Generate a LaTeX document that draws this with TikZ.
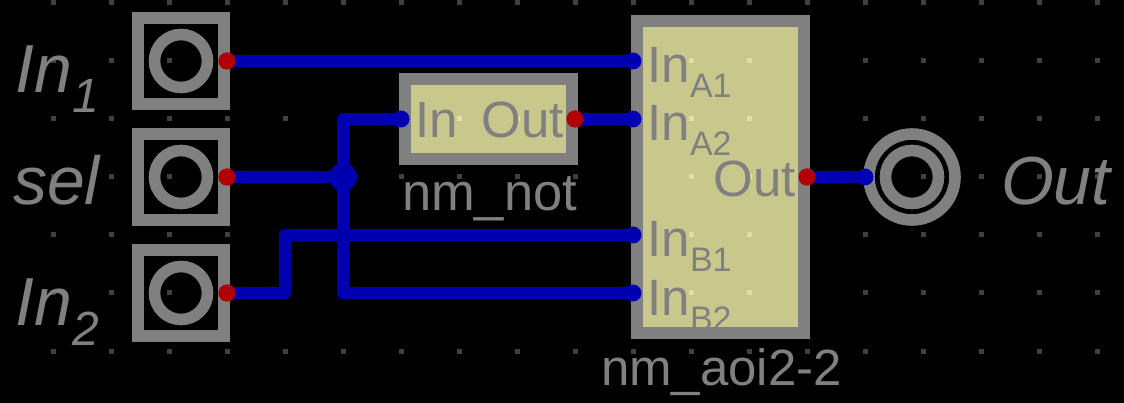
\documentclass[tikz,border=0pt]{standalone}
\usepackage{fontspec}
\setmainfont{Liberation Sans}
\definecolor{wireblue}{RGB}{0,0,178}
\definecolor{pinred}{RGB}{178,0,0}
\definecolor{edgegray}{RGB}{128,128,128}
\definecolor{blockfill}{RGB}{200,200,140}
\definecolor{griddark}{RGB}{64,64,64}
\definecolor{gridlight}{RGB}{222,222,175}
\newcommand{\bigsize}{\fontsize{68}{68}\selectfont}
\newcommand{\midsize}{\fontsize{51}{51}\selectfont}
\newcommand{\insub}[1]{\raisebox{-20pt}{\fontsize{48}{48}\selectfont #1}}
\newcommand{\portsub}[1]{In\raisebox{-15pt}{\fontsize{34}{34}\selectfont #1}}
\begin{document}
\begin{tikzpicture}
	[x=1pt,y=-1pt,
	every node/.style={inner sep=0pt,outer sep=0pt},
	biglabel/.style={anchor=base west,text=edgegray,font=\bigsize\itshape},
	midlabel/.style={anchor=base west,text=edgegray,font=\midsize},
	inbox/.style={draw=edgegray,line width=11.6pt,minimum size=86.4pt},
	ring/.style={circle,draw=edgegray,line width=11.6pt,minimum size=#1},
	bodyfill/.style={fill=blockfill,minimum width=167pt,minimum height=#1},
	bodyedge/.style={draw=edgegray,line width=11.6pt,minimum width=167pt,minimum height=#1},
	redpin/.style={circle,fill=pinred,minimum size=17pt},
	bluepin/.style={circle,fill=wireblue,minimum size=17pt},
	wire/.style={draw=wireblue,line width=11.5pt,line cap=round,line join=round}]
	\fill[black] (0,0) rectangle (1124,403);
	% grid
	\foreach \x in {0,...,18}
		\foreach \y in {0,...,6}
			\fill[griddark] ({50.5+58*\x},{0.5+58*\y}) rectangle +(5,5);
	% blocks
	\node[bodyfill=80pt] (notfill) at (488.5,119) {};
	\node[bodyfill=312pt] (aoifill) at (720.5,177) {};
	\foreach \x/\y in {459/119,517/119,691/61,749/61,691/119,749/119,691/177,749/177,691/235,749/235,691/293,749/293}
		\fill[gridlight] ({\x-2.5},{\y-2.5}) rectangle +(5,5);
	% inputs
	\node[inbox] (boxa) at (181,61) {};
	\node[inbox] (boxb) at (181,177) {};
	\node[inbox] (boxc) at (181,293) {};
	\node[ring=53pt] (ringa) at (181,61) {};
	\node[ring=53pt] (ringb) at (181,177) {};
	\node[ring=53pt] (ringc) at (181,293) {};
	\node[biglabel] (labela) at (16,93) {In\insub{1}};
	\node[biglabel] (labelb) at (13,205) {sel};
	\node[biglabel] (labelc) at (16,325) {In\insub{2}};
	% output
	\node[ring=86pt] (ringo) at (912,177) {};
	\node[ring=53pt] (ringi) at (912,177) {};
	\node[biglabel] (labelo) at (1001,205) {Out};
	% block texts
	\node[midlabel] (notin) at (415,138) {In};
	\node[midlabel] (notout) at (481.5,138) {Out};
	\node[midlabel,font=\fontsize{52.5}{52.5}\selectfont] (notname) at (402,211) {nm\_not};
	\node[midlabel] (textaa) at (647.5,83) {\portsub{A1}};
	\node[midlabel] (textab) at (647.5,141) {\portsub{A2}};
	\node[midlabel] (textba) at (647.5,257) {\portsub{B1}};
	\node[midlabel] (textbb) at (647.5,315) {\portsub{B2}};
	\node[midlabel] (aoiout) at (713.5,197) {Out};
	\node[midlabel] (aoiname) at (601,385) {nm\_aoi2-2};
	\node[bodyedge=80pt] (notedge) at (488.5,119) {};
	\node[bodyedge=312pt] (aoiedge) at (720.5,177) {};
	% pins
	\node[redpin] (pa) at (227,61) {};
	\node[redpin] (pb) at (227,177) {};
	\node[redpin] (pc) at (227,293) {};
	\node[redpin] (pnot) at (575,119) {};
	\node[redpin] (paoi) at (807,177) {};
	\node[bluepin] (qnot) at (401,119) {};
	\node[bluepin] (qaa) at (633,61) {};
	\node[bluepin] (qab) at (633,119) {};
	\node[bluepin] (qba) at (633,235) {};
	\node[bluepin] (qbb) at (633,293) {};
	\node[bluepin] (qo) at (865,177) {};
	\node[circle,fill=wireblue,minimum size=28pt] (join) at (343,177) {};
	\coordinate (bend) at (285,264);
	% wires
	\path[wire]
	(pa) edge (qaa)
	(pb) edge (join)
	(pnot) edge (qab)
	(paoi) edge (qo);
	\draw[wire] (pc.center) -| (bend) |- (qba.center);
	\draw[wire] (qnot.center) -| (join.center) |- (qbb.center);
	% pins again, red over the wires
	\foreach \p in {pa,pb,pc,pnot,paoi}
		\fill[pinred] (\p.center) circle (8.5);
\end{tikzpicture}
\end{document}
